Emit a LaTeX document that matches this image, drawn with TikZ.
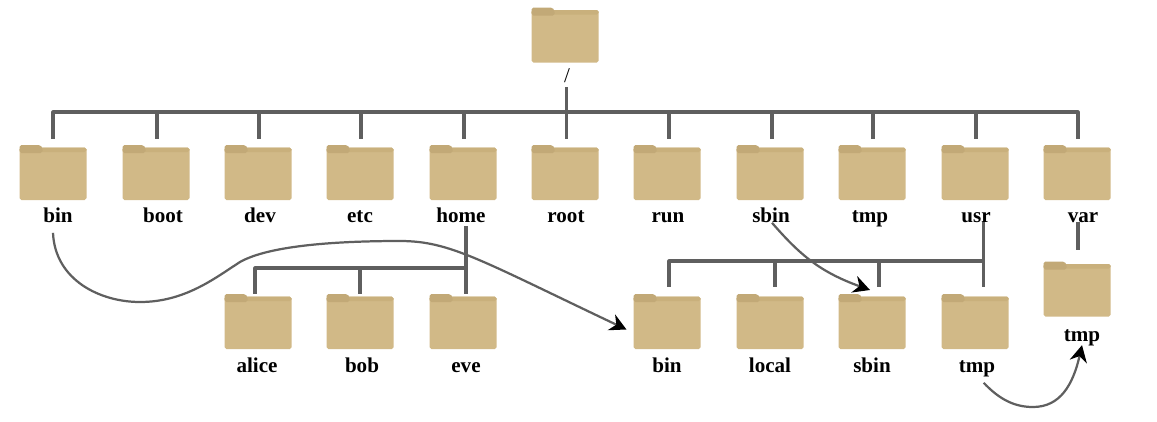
\documentclass[tikz,border=0pt]{standalone}
\usepackage{fontspec}
\setmainfont{Liberation Serif}
\usetikzlibrary{arrows.meta}
\definecolor{foldertan}{HTML}{D1B987}
\definecolor{folderband}{HTML}{C9B07C}
\definecolor{foldertab}{HTML}{C2A977}
\definecolor{treegray}{HTML}{5F5F5F}
\tikzset{
	folder/.style={minimum width=2.01cm,minimum height=1.65cm,inner sep=0pt,outer sep=0pt,
		path picture={
			\fill[foldertan,rounded corners=1.5pt] (-33.5,27.5)--(-33.5,-25)--(33.5,-25)--(33.5,27.5)--cycle;
			\fill[folderband,rounded corners=1.5pt] (-33.5,-20.5)--(-33.5,-25)--(33.5,-25)--(33.5,-20.5)--cycle;
			\fill[foldertab,rounded corners=1.5pt] (-33.5,-19.5)--(-33.5,-27.5)--(-12.5,-27.5)--(-10.5,-24.5)--(-10.5,-19.5)--cycle;
		}},
	dirname/.style={font=\bfseries\fontsize{18}{20}\selectfont,text depth=0pt,anchor=base},
	treeline/.style={draw=treegray,line width=2.6pt},
	linkline/.style={draw=treegray,line width=1.9pt,-{Stealth[length=.5cm,width=.52cm,black]}},
}
\begin{document}
\begin{tikzpicture}[x=.03cm,y=-.03cm,line join=round]
	\useasboundingbox (0,0) rectangle (1157,421);
	\node[folder] (ftop) at (565,35) {};
	\node[font=\fontsize{18}{20}\selectfont] (ltop) at (567,76) {/};
	\foreach \name/\fx/\lx in {bin/53/58,boot/156/163,dev/258/260,etc/360/360,home/463/461,root/565/566,run/667/668,sbin/770/771,tmp/872/870,usr/975/976,var/1077/1083}
	{
		\node[folder] (f\name) at (\fx,172.5) {};
		\node[dirname] (l\name) at (\lx,222) {\name};
	}
	\foreach \name/\txt/\fx/\lx in {alice/alice/258/257,bob/bob/360/362,eve/eve/463/466,ubin/bin/667/667,local/local/770/770,usbin/sbin/872/872,utmp/tmp/975/977}
	{
		\node[folder] (f\name) at (\fx,321.5) {};
		\node[dirname] (l\name) at (\lx,372) {\txt};
	}
	\node[folder] (fvtmp) at (1077,289) {};
	\node[dirname] (lvtmp) at (1082,341) {tmp};

	\coordinate (rootbus) at (566.5,112);
	\coordinate (homebus) at (466,268);
	\coordinate (usrbus) at (983.5,261);
	\draw[treeline] (ltop.south-|rootbus) -- ([yshift=.18cm]froot.north-|rootbus);
	\foreach \name/\dx in {bin/0,boot/.03,dev/.03,etc/.03,home/.03,run/.06,sbin/.06,tmp/.03,usr/.03,var/.03}
		\draw[treeline] (rootbus) -| ([xshift=\dx cm,yshift=.18cm]f\name.north);
	\draw[treeline] (lhome.south-|homebus) -- (feve.north-|homebus);
	\foreach \name/\dx in {alice/-.09,bob/0}
		\draw[treeline] (homebus) -| ([xshift=\dx cm]f\name.north);
	\draw[treeline] (lusr.base-|usrbus) -- ([yshift=.21cm]futmp.north-|usrbus);
	\foreach \name/\dx in {ubin/.06,local/.15,usbin/.21}
		\draw[treeline] (usrbus) -| ([xshift=\dx cm,yshift=.21cm]f\name.north);
	\draw[treeline] ([xshift=-.15cm]lvar.base) -- ([xshift=.03cm,yshift=.36cm]fvtmp.north);

	\draw[linkline] ([xshift=-.15cm,yshift=-.2cm]lbin.south) .. controls (55,280) and (100,302) .. (140,302) .. controls (185,302) and (215,278) .. (240,262) .. controls (270,245) and (340,241) .. (400,241) .. controls (450,241) and (480,260) .. ([xshift=-.21cm,yshift=-.24cm]fubin.west);
	\draw[linkline] ([xshift=.03cm,yshift=.1cm]lsbin.south) .. controls (800,255) and (820,272) .. ([xshift=-.06cm,yshift=.12cm]fusbin.north);
	\draw[linkline] ([xshift=.2cm,yshift=-.2cm]lutmp.south) .. controls (1000,400) and (1015,407) .. (1033,407) .. controls (1060,407) and (1073,385) .. (lvtmp.south);
\end{tikzpicture}
\end{document}
